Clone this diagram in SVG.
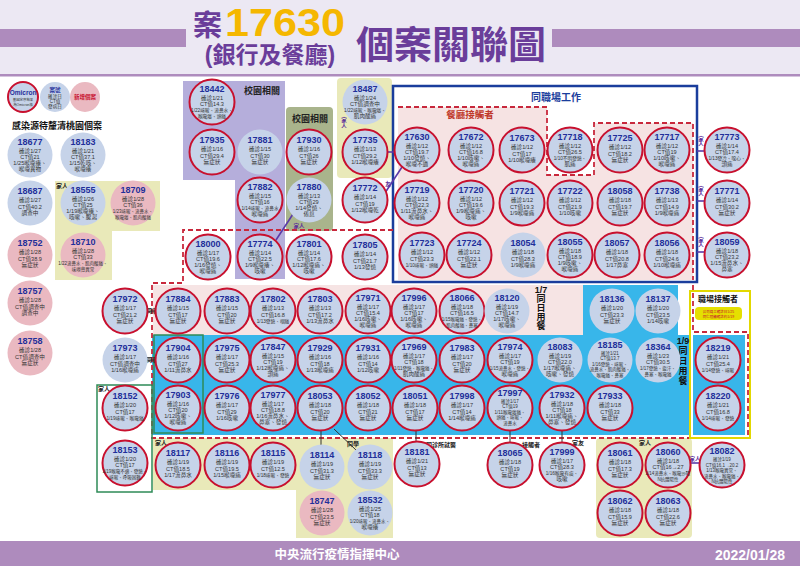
<svg xmlns="http://www.w3.org/2000/svg" width="800" height="566" viewBox="0 0 800 566">
<defs>
<style>
.r{fill:#c6d3e9;stroke:#c8102e;stroke-width:2}
.b{fill:#c6d3e9}
.p{fill:#eab9c1}
.id{font-family:"Liberation Sans",Arial,sans-serif;font-weight:bold;font-size:9px;fill:#1f2f9a;text-anchor:middle}
.t{font-family:"Liberation Sans","Noto Sans CJK TC","Noto Sans CJK SC",sans-serif;font-size:5.6px;fill:#333;text-anchor:middle}
.s{font-size:4.7px}
.x{font-size:4.5px}
.lb{font-family:"Liberation Sans","Noto Sans CJK TC",sans-serif;font-weight:bold;font-size:6px;fill:#222;text-anchor:middle}
.lp{font-family:"Liberation Sans","Noto Sans CJK TC",sans-serif;font-weight:bold;font-size:5.5px;fill:#5b2d9a;text-anchor:middle}
.dash{fill:none;stroke:#c8283c;stroke-width:1.8;stroke-dasharray:5 3}
.ln{stroke:#333;stroke-width:1;fill:none}
.pl{stroke:#5b3aa8;stroke-width:1.6;fill:none}
.vt{font-family:"Liberation Sans","Noto Sans CJK TC",sans-serif;font-weight:bold;font-size:9px;fill:#111;text-anchor:middle}
.hd{font-family:"Liberation Sans","Noto Sans CJK TC",sans-serif;font-weight:bold}
.red{fill:#c8102e}
</style>
</defs>
<rect width="800" height="566" fill="#ffffff"/>
<g id="header">
<rect x="0" y="0" width="800" height="75" fill="#ece8f3"/>
<rect x="0" y="29" width="186" height="18" fill="#ae8bbd"/>
<rect x="552" y="29" width="248" height="18" fill="#ae8bbd"/>
<rect x="0" y="74" width="800" height="2.5" fill="#ae8bbd"/>
<text class="hd" x="193" y="36" font-size="29" fill="#6a3d9a">案</text>
<text class="hd" x="225" y="36" font-size="38" fill="#f5b700" textLength="120" lengthAdjust="spacingAndGlyphs">17630</text>
<text class="hd" x="270" y="63" font-size="23" fill="#6a3d9a" text-anchor="middle">(銀行及餐廳)</text>
<text class="hd" x="451" y="58" font-size="38" fill="#6a3d9a" text-anchor="middle">個案關聯圖</text>
</g>
<g id="footer">
<rect x="0" y="541" width="800" height="25" fill="#ae8bbd"/>
<text class="hd" x="337" y="559" font-size="12.5" fill="#fff" text-anchor="middle">中央流行疫情指揮中心</text>
<text class="hd" x="785" y="560" font-size="14" fill="#fff" text-anchor="end">2022/01/28</text>
</g>
<g id="regions">
<path d="M55,181 H160 V231 H112 V280 H55 Z" fill="#e9e9b9"/>
<path d="M183,81 H285 V279 H235 V180 H183 Z" fill="#b5aedb"/>
<rect x="286" y="107" width="47" height="124" rx="4" fill="#a9b48c"/>
<rect x="337" y="78" width="55" height="100" rx="4" fill="#e9e9b9"/>
<path d="M398,107 H547 V175 H594 V123 H693 V280 H398 Z" fill="#f6e3e3"/>
<path d="M398,107 H547 V175 H594 V123 H693 V280" class="dash"/>
<rect x="393" y="86" width="304" height="196" fill="none" stroke="#1a3d9c" stroke-width="2.5"/>
<rect x="153" y="285" width="430" height="50" fill="#f6e4e4"/>
<path d="M152,335 H583 V285 H678 V335 H690 V435 H152 Z" fill="#38b6ea"/>
<rect x="693" y="335" width="52" height="100" fill="#38b6ea"/>
<path d="M153,438 H393 V538 H296 V490 H153 Z" fill="#e9e9b9"/>
<rect x="596" y="438" width="96" height="100" rx="4" fill="#e9e9b9"/>
<path d="M393,230 H183 V283 H152 V438 H748 V332 H693 V282" class="dash"/>
<rect x="690" y="291" width="60" height="147" fill="none" stroke="#e2d800" stroke-width="2"/>
<rect x="154" y="335" width="49" height="98" fill="none" stroke="#2e8b57" stroke-width="1.5"/>
<rect x="97" y="385" width="55" height="107" fill="none" stroke="#2e8b57" stroke-width="1.5"/>
</g>
<g id="labels">
<text class="hd" x="12" y="129" font-size="9" fill="#111">感染源待釐清桃園個案</text>
<text class="hd" x="262" y="94" font-size="9" fill="#222" text-anchor="middle">校園相關</text>
<text class="hd" x="310" y="122" font-size="9" fill="#222" text-anchor="middle">校園相關</text>
<text class="hd" x="556" y="101" font-size="10" fill="#1a3d9c" text-anchor="middle">同職場工作</text>
<text class="hd" x="470" y="118" font-size="9.5" fill="#c0392b" text-anchor="middle">餐廳接觸者</text>
<text class="hd" x="718" y="302" font-size="8" fill="#111" text-anchor="middle">職場接觸者</text>
<rect x="695" y="307" width="47" height="13" rx="4" fill="#e5e000"/>
<text class="t red" x="718.5" y="312.5" style="font-size:3.5px">公司員工確診日1/25</text>
<text class="t red" x="718.5" y="317.5" style="font-size:3.5px">同仁陸續確診約1/19</text>
<text class="vt"><tspan x="541" y="293">1/7</tspan><tspan x="541" dy="9">同</tspan><tspan x="541" dy="9">日</tspan><tspan x="541" dy="9">用</tspan><tspan x="541" dy="9">餐</tspan></text>
<text class="vt"><tspan x="683" y="344">1/9</tspan><tspan x="683" dy="10">同</tspan><tspan x="683" dy="10">日</tspan><tspan x="683" dy="10">用</tspan><tspan x="683" dy="10">餐</tspan></text>
<text class="lb" x="62" y="188" font-size="5.5">家人</text>
<text class="lb" x="104" y="391" font-size="5.5">家人</text>
<text class="lb" x="161" y="445" font-size="5.5">家人</text>
<text class="lb" x="645" y="445" font-size="5.5">家人</text>
<text class="lp"><tspan x="344" y="122">家</tspan><tspan x="344" dy="6">人</tspan></text>
</g>
<g id="connectors">
<line class="pl" x1="387" y1="152" x2="396" y2="152"/>
<line class="pl" x1="383" y1="196" x2="402" y2="167"/>
<text class="lp" x="388" y="186" font-size="7">友</text>
<line class="pl" x1="293" y1="214" x2="276" y2="240"/>
<text class="lp" x="299" y="228">家人</text>
<line class="pl" x1="697" y1="151" x2="705" y2="151"/>
<line class="pl" x1="697" y1="201" x2="705" y2="201"/>
<line class="pl" x1="697" y1="252" x2="705" y2="252"/>
<text class="lp" font-size="4.5"><tspan x="701" y="141">家</tspan><tspan x="701" dy="5">人</tspan></text>
<text class="lp" font-size="4.5"><tspan x="701" y="191">家</tspan><tspan x="701" dy="5">人</tspan></text>
<text class="lp" font-size="4.5"><tspan x="701" y="242">家</tspan><tspan x="701" dy="5">人</tspan></text>
<line class="pl" x1="690" y1="463" x2="700" y2="463"/>
<text class="lp" x="695" y="461" font-size="4">家人</text>
<line class="ln" x1="147" y1="311" x2="156" y2="311" stroke-width="2"/>
<text class="lb" x="152" y="313" font-size="4.5">同事</text>
<line class="ln" x1="147" y1="360" x2="156" y2="360" stroke-width="2"/>
<text class="lb" x="152" y="362" font-size="4.5">同事</text>
<line class="ln" x1="321" y1="430" x2="321" y2="445"/>
<line class="ln" x1="334" y1="429" x2="356" y2="450"/>
<text class="lb" x="353" y="446">同學</text>
<line class="ln" x1="416" y1="430" x2="416" y2="442"/>
<text class="lb" x="441" y="447">同診所就醫</text>
<line class="ln" x1="510" y1="430" x2="510" y2="443"/>
<text class="lb" x="531" y="447">接觸者</text>
<line class="ln" x1="562" y1="430" x2="562" y2="443"/>
<text class="lb" x="578" y="445">室友</text>
</g>
<g id="legend">
<circle class="r" cx="23" cy="97" r="15"/>
<text x="23" y="95" font-family="Liberation Sans,sans-serif" font-weight="bold" font-size="6.5" fill="#1f2f9a" text-anchor="middle">Omicron</text>
<text class="t" x="23" y="101" style="font-size:3.4px">基因定序結果</text>
<text class="t" x="23" y="105.5" style="font-size:3.4px">為Omicron株</text>
<circle class="b" cx="55" cy="97" r="15"/>
<text class="hd" x="55" y="92" font-size="5.5" fill="#1f2f9a" text-anchor="middle">案號</text>
<text class="t" x="55" y="98" style="font-size:4.6px"><tspan x="55">確診日</tspan><tspan x="55" dy="5">CT值</tspan><tspan x="55" dy="5">發病日</tspan></text>
<circle class="p" cx="85" cy="97" r="15"/>
<text class="hd" x="85" y="99" font-size="5.5" fill="#c8102e" text-anchor="middle">新增個案</text>
</g>
<g id="n18677"><circle class="b" cx="30" cy="155" r="22.5"/><text class="id" x="30" y="145">18677</text><text class="t" x="30" y="152.5"><tspan x="30">確診1/27</tspan><tspan x="30" dy="6.2">CT值21</tspan><tspan x="30" dy="6.2">1/25喉嚨癢、</tspan><tspan x="30" dy="6.2">喉嚨異物</tspan></text></g>
<g id="n18183"><circle class="b" cx="83" cy="155" r="22.5"/><text class="id" x="83" y="145">18183</text><text class="t" x="83" y="152.5"><tspan x="83">確診1/21</tspan><tspan x="83" dy="6.2">CT值37.1</tspan><tspan x="83" dy="6.2">1/15乾咳、</tspan><tspan x="83" dy="6.2">喉嚨癢</tspan></text></g>
<g id="n18687"><circle class="b" cx="30" cy="203" r="22.5"/><text class="id" x="30" y="194">18687</text><text class="t" x="30" y="202"><tspan x="30">確診1/27</tspan><tspan x="30" dy="6.5">CT值40.2</tspan><tspan x="30" dy="6.5">調查中</tspan></text></g>
<g id="n18555"><circle class="b" cx="83" cy="203" r="22.5"/><text class="id" x="83" y="193">18555</text><text class="t" x="83" y="200.5"><tspan x="83">確診1/26</tspan><tspan x="83" dy="6.2">CT值25</tspan><tspan x="83" dy="6.2">1/19喉嚨癢、</tspan><tspan x="83" dy="6.2">咳嗽、腹瀉</tspan></text></g>
<g id="n18709"><circle class="p" cx="133" cy="203" r="22.5"/><text class="id" x="133" y="193">18709</text><text class="t" x="133" y="200.5"><tspan x="133">確診1/28</tspan><tspan x="133" dy="6.2">CT值36</tspan><tspan class="x" x="133" dy="6.2">1/23咳嗽、流鼻水、</tspan><tspan class="x" x="133" dy="6">喉嚨癢、肌肉酸痛</tspan></text></g>
<g id="n18752"><circle class="p" cx="30" cy="255" r="22.5"/><text class="id" x="30" y="246">18752</text><text class="t" x="30" y="254"><tspan x="30">確診1/28</tspan><tspan x="30" dy="6.5">CT值38.9</tspan><tspan x="30" dy="6.5">無症狀</tspan></text></g>
<g id="n18710"><circle class="p" cx="83" cy="255" r="22.5"/><text class="id" x="83" y="245">18710</text><text class="t" x="83" y="252.5"><tspan x="83">確診1/28</tspan><tspan x="83" dy="6.2">CT值33</tspan><tspan class="x" x="83" dy="6.2">1/22流鼻水、肌肉酸痛、</tspan><tspan class="x" x="83" dy="6">味嗅覺異常</tspan></text></g>
<g id="n18757"><circle class="p" cx="30" cy="303" r="22.5"/><text class="id" x="30" y="294">18757</text><text class="t" x="30" y="302"><tspan x="30">確診1/28</tspan><tspan x="30" dy="6.5">CT值調查中</tspan><tspan x="30" dy="6.5">調查中</tspan></text></g>
<g id="n18758"><circle class="p" cx="30" cy="353" r="22.5"/><text class="id" x="30" y="344">18758</text><text class="t" x="30" y="352"><tspan x="30">確診1/28</tspan><tspan x="30" dy="6.5">CT值調查中</tspan><tspan x="30" dy="6.5">無症狀</tspan></text></g>
<g id="n18442"><circle class="r" cx="212" cy="102" r="22.5"/><text class="id" x="212" y="92">18442</text><text class="t" x="212" y="99.5"><tspan x="212">確診1/21</tspan><tspan x="212" dy="6.2">CT值14.3</tspan><tspan class="s" x="212" dy="6.2">1/22咳嗽、流鼻水、</tspan><tspan class="s" x="212" dy="6">喉嚨癢、頭痛</tspan></text></g>
<g id="n17935"><circle class="r" cx="212" cy="152" r="22.5"/><text class="id" x="212" y="143">17935</text><text class="t" x="212" y="151"><tspan x="212">確診1/16</tspan><tspan x="212" dy="6.5">CT值29.4</tspan><tspan x="212" dy="6.5">無症狀</tspan></text></g>
<g id="n17881"><circle class="b" cx="260" cy="152" r="22.5"/><text class="id" x="260" y="143">17881</text><text class="t" x="260" y="151"><tspan x="260">確診1/15</tspan><tspan x="260" dy="6.5">CT值30</tspan><tspan x="260" dy="6.5">無症狀</tspan></text></g>
<g id="n17882"><circle class="r" cx="260" cy="200" r="22.5"/><text class="id" x="260" y="190">17882</text><text class="t" x="260" y="197.5"><tspan x="260">確診1/15</tspan><tspan x="260" dy="6.2">CT值16</tspan><tspan class="s" x="260" dy="6.2">1/14咳嗽、流鼻水</tspan><tspan x="260" dy="6.2">喉嚨痛</tspan></text></g>
<g id="n17774"><circle class="r" cx="260" cy="257" r="22.5"/><text class="id" x="260" y="247">17774</text><text class="t" x="260" y="254.5"><tspan x="260">確診1/14</tspan><tspan x="260" dy="6.2">CT值22.5</tspan><tspan x="260" dy="6.2">1/9喉嚨癢、</tspan><tspan x="260" dy="6.2">咳嗽</tspan></text></g>
<g id="n17930"><circle class="r" cx="309" cy="152" r="22.5"/><text class="id" x="309" y="143">17930</text><text class="t" x="309" y="151"><tspan x="309">確診1/16</tspan><tspan x="309" dy="6.5">CT值26</tspan><tspan x="309" dy="6.5">無症狀</tspan></text></g>
<g id="n17880"><circle class="b" cx="309" cy="200" r="22.5"/><text class="id" x="309" y="190">17880</text><text class="t" x="309" y="197.5"><tspan x="309">確診1/13</tspan><tspan x="309" dy="6.2">CT值29</tspan><tspan x="309" dy="6.2">1/14發燒、</tspan><tspan x="309" dy="6.2">倦怠</tspan></text></g>
<g id="n18487"><circle class="b" cx="365" cy="102" r="22.5"/><text class="id" x="365" y="92">18487</text><text class="t" x="365" y="99.5"><tspan x="365">確診1/24</tspan><tspan x="365" dy="6.2">CT值調查中</tspan><tspan class="s" x="365" dy="6.2">1/22咳嗽、喉嚨癢、</tspan><tspan x="365" dy="6">肌肉酸痛</tspan></text></g>
<g id="n17735"><circle class="r" cx="365" cy="152" r="22.5"/><text class="id" x="365" y="143">17735</text><text class="t" x="365" y="151"><tspan x="365">確診1/13</tspan><tspan x="365" dy="6.5">CT值29.2</tspan><tspan x="365" dy="6.5">1/12喉嚨癢</tspan></text></g>
<g id="n17772"><circle class="r" cx="365" cy="200" r="22.5"/><text class="id" x="365" y="191">17772</text><text class="t" x="365" y="199"><tspan x="365">確診1/14</tspan><tspan x="365" dy="6.5">CT值19</tspan><tspan x="365" dy="6.5">1/12喉嚨乾</tspan></text></g>
<g id="n18000"><circle class="r" cx="208" cy="257" r="22.5"/><text class="id" x="208" y="247">18000</text><text class="t" x="208" y="254.5"><tspan x="208">確診1/17</tspan><tspan x="208" dy="6.2">CT值19.6</tspan><tspan x="208" dy="6.2">1/16發燒、</tspan><tspan x="208" dy="6.2">喉嚨痛</tspan></text></g>
<g id="n17801"><circle class="r" cx="309" cy="257" r="22.5"/><text class="id" x="309" y="247">17801</text><text class="t" x="309" y="254.5"><tspan x="309">確診1/14</tspan><tspan x="309" dy="6.2">CT值17.6</tspan><tspan x="309" dy="6.2">1/12喉嚨痛、</tspan><tspan x="309" dy="6.2">咳嗽</tspan></text></g>
<g id="n17805"><circle class="r" cx="365" cy="257" r="22.5"/><text class="id" x="365" y="248">17805</text><text class="t" x="365" y="256"><tspan x="365">確診1/14</tspan><tspan x="365" dy="6.5">CT值21.7</tspan><tspan x="365" dy="6.5">1/13發燒</tspan></text></g>
<g id="n17630"><circle class="r" cx="417" cy="150" r="22.5"/><text class="id" x="417" y="140">17630</text><text class="t" x="417" y="147.5"><tspan x="417">確診1/12</tspan><tspan x="417" dy="6.2">CT值19.7</tspan><tspan x="417" dy="6.2">1/10發燒、</tspan><tspan x="417" dy="6.2">喉嚨不適</tspan></text></g>
<g id="n17672"><circle class="r" cx="471" cy="150" r="22.5"/><text class="id" x="471" y="140">17672</text><text class="t" x="471" y="147.5"><tspan x="471">確診1/12</tspan><tspan x="471" dy="6.2">CT值16.8</tspan><tspan x="471" dy="6.2">1/10咳嗽、</tspan><tspan x="471" dy="6.2">喉嚨痛</tspan></text></g>
<g id="n17673"><circle class="r" cx="522" cy="150" r="22.5"/><text class="id" x="522" y="141">17673</text><text class="t" x="522" y="149"><tspan x="522">確診1/12</tspan><tspan x="522" dy="6.5">CT值17</tspan><tspan x="522" dy="6.5">1/10喉嚨癢</tspan></text></g>
<g id="n17718"><circle class="r" cx="570" cy="150" r="22.5"/><text class="id" x="570" y="140">17718</text><text class="t" x="570" y="147.5"><tspan x="570">確診1/12</tspan><tspan x="570" dy="6.2">CT值26.5</tspan><tspan class="s" x="570" dy="6.2">1/10不明發燒、</tspan><tspan x="570" dy="6.2">肌痛</tspan></text></g>
<g id="n17725"><circle class="r" cx="620" cy="150" r="22.5"/><text class="id" x="620" y="141">17725</text><text class="t" x="620" y="149"><tspan x="620">確診1/12</tspan><tspan x="620" dy="6.5">CT值18.2</tspan><tspan x="620" dy="6.5">無症狀</tspan></text></g>
<g id="n17717"><circle class="r" cx="667" cy="150" r="22.5"/><text class="id" x="667" y="140">17717</text><text class="t" x="667" y="147.5"><tspan x="667">確診1/12</tspan><tspan x="667" dy="6.2">CT值19</tspan><tspan x="667" dy="6.2">1/10咳嗽、</tspan><tspan x="667" dy="6.2">喉嚨痛</tspan></text></g>
<g id="n17773"><circle class="r" cx="727" cy="150" r="22.5"/><text class="id" x="727" y="140">17773</text><text class="t" x="727" y="147.5"><tspan x="727">確診1/14</tspan><tspan x="727" dy="6.2">CT值17.4</tspan><tspan class="s" x="727" dy="6.2">1/13發冷、噁心、</tspan><tspan x="727" dy="6.2">頭痛</tspan></text></g>
<g id="n17719"><circle class="r" cx="417" cy="203" r="22.5"/><text class="id" x="417" y="193">17719</text><text class="t" x="417" y="200.5"><tspan x="417">確診1/12</tspan><tspan x="417" dy="6.2">CT值22.3</tspan><tspan x="417" dy="6.2">1/11流鼻水、</tspan><tspan x="417" dy="6.2">喉嚨痛</tspan></text></g>
<g id="n17720"><circle class="r" cx="471" cy="203" r="22.5"/><text class="id" x="471" y="193">17720</text><text class="t" x="471" y="200.5"><tspan x="471">確診1/12</tspan><tspan x="471" dy="6.2">CT值19.6</tspan><tspan x="471" dy="6.2">1/9喉嚨痛、</tspan><tspan x="471" dy="6.2">咳嗽</tspan></text></g>
<g id="n17721"><circle class="r" cx="522" cy="203" r="22.5"/><text class="id" x="522" y="194">17721</text><text class="t" x="522" y="202"><tspan x="522">確診1/12</tspan><tspan x="522" dy="6.5">CT值19.3</tspan><tspan x="522" dy="6.5">1/9喉嚨痛</tspan></text></g>
<g id="n17722"><circle class="r" cx="570" cy="203" r="22.5"/><text class="id" x="570" y="194">17722</text><text class="t" x="570" y="202"><tspan x="570">確診1/12</tspan><tspan x="570" dy="6.5">CT值21.9</tspan><tspan x="570" dy="6.5">1/10咳嗽</tspan></text></g>
<g id="n18058"><circle class="r" cx="620" cy="203" r="22.5"/><text class="id" x="620" y="194">18058</text><text class="t" x="620" y="202"><tspan x="620">確診1/18</tspan><tspan x="620" dy="6.5">CT值19.7</tspan><tspan x="620" dy="6.5">無症狀</tspan></text></g>
<g id="n17738"><circle class="r" cx="667" cy="203" r="22.5"/><text class="id" x="667" y="194">17738</text><text class="t" x="667" y="202"><tspan x="667">確診1/13</tspan><tspan x="667" dy="6.5">CT值14.9</tspan><tspan x="667" dy="6.5">1/9喉嚨痛</tspan></text></g>
<g id="n17771"><circle class="r" cx="727" cy="203" r="22.5"/><text class="id" x="727" y="194">17771</text><text class="t" x="727" y="202"><tspan x="727">確診1/14</tspan><tspan x="727" dy="6.5">CT值30.2</tspan><tspan x="727" dy="6.5">無症狀</tspan></text></g>
<g id="n17723"><circle class="r" cx="422" cy="255" r="22.5"/><text class="id" x="422" y="246">17723</text><text class="t" x="422" y="254"><tspan x="422">確診1/12</tspan><tspan x="422" dy="6.5">CT值23.3</tspan><tspan class="s" x="422" dy="6.5">1/10咳嗽、頭痛</tspan></text></g>
<g id="n17724"><circle class="r" cx="469" cy="255" r="22.5"/><text class="id" x="469" y="246">17724</text><text class="t" x="469" y="254"><tspan x="469">確診1/12</tspan><tspan x="469" dy="6.5">CT值22.1</tspan><tspan x="469" dy="6.5">無症狀</tspan></text></g>
<g id="n18054"><circle class="b" cx="523" cy="255" r="22.5"/><text class="id" x="523" y="246">18054</text><text class="t" x="523" y="254"><tspan x="523">確診1/18</tspan><tspan x="523" dy="6.5">CT值28.3</tspan><tspan x="523" dy="6.5">1/9喉嚨痛</tspan></text></g>
<g id="n18055"><circle class="r" cx="570" cy="255" r="22.5"/><text class="id" x="570" y="245">18055</text><text class="t" x="570" y="252.5"><tspan x="570">確診1/18</tspan><tspan x="570" dy="6.2">CT值18.9</tspan><tspan x="570" dy="6.2">1/9咳嗽、</tspan><tspan x="570" dy="6.2">喉嚨痛</tspan></text></g>
<g id="n18057"><circle class="r" cx="617" cy="255" r="22.5"/><text class="id" x="617" y="246">18057</text><text class="t" x="617" y="254"><tspan x="617">確診1/18</tspan><tspan x="617" dy="6.5">CT值20.8</tspan><tspan x="617" dy="6.5">1/17鼻塞</tspan></text></g>
<g id="n18056"><circle class="r" cx="667" cy="255" r="22.5"/><text class="id" x="667" y="246">18056</text><text class="t" x="667" y="254"><tspan x="667">確診1/18</tspan><tspan x="667" dy="6.5">CT值24.6</tspan><tspan x="667" dy="6.5">1/10喉嚨痛</tspan></text></g>
<g id="n18059"><circle class="r" cx="727" cy="255" r="22.5"/><text class="id" x="727" y="245">18059</text><text class="t" x="727" y="252.5"><tspan x="727">確診1/18</tspan><tspan x="727" dy="6.2">CT值23.2</tspan><tspan x="727" dy="6.2">1/15流鼻水、</tspan><tspan x="727" dy="6.2">鼻塞</tspan></text></g>
<g id="n17972"><circle class="r" cx="125" cy="311" r="22.5"/><text class="id" x="125" y="302">17972</text><text class="t" x="125" y="310"><tspan x="125">確診1/17</tspan><tspan x="125" dy="6.5">CT值21.2</tspan><tspan x="125" dy="6.5">無症狀</tspan></text></g>
<g id="n17884"><circle class="r" cx="178" cy="311" r="22.5"/><text class="id" x="178" y="302">17884</text><text class="t" x="178" y="310"><tspan x="178">確診1/15</tspan><tspan x="178" dy="6.5">CT值17</tspan><tspan x="178" dy="6.5">無症狀</tspan></text></g>
<g id="n17883"><circle class="r" cx="227" cy="311" r="22.5"/><text class="id" x="227" y="302">17883</text><text class="t" x="227" y="310"><tspan x="227">確診1/15</tspan><tspan x="227" dy="6.5">CT值20</tspan><tspan x="227" dy="6.5">無症狀</tspan></text></g>
<g id="n17802"><circle class="r" cx="273" cy="311" r="22.5"/><text class="id" x="273" y="302">17802</text><text class="t" x="273" y="310"><tspan x="273">確診1/13</tspan><tspan x="273" dy="6.5">CT值16.8</tspan><tspan class="s" x="273" dy="6.5">1/13發燒、咽痛</tspan></text></g>
<g id="n17803"><circle class="r" cx="320" cy="311" r="22.5"/><text class="id" x="320" y="302">17803</text><text class="t" x="320" y="310"><tspan x="320">確診1/13</tspan><tspan x="320" dy="6.5">CT值17.2</tspan><tspan x="320" dy="6.5">1/13流鼻水</tspan></text></g>
<g id="n17971"><circle class="r" cx="368" cy="311" r="22.5"/><text class="id" x="368" y="301">17971</text><text class="t" x="368" y="308.5"><tspan x="368">確診1/17</tspan><tspan x="368" dy="6.2">CT值15.4</tspan><tspan x="368" dy="6.2">1/16咳嗽、</tspan><tspan x="368" dy="6.2">喉嚨痛</tspan></text></g>
<g id="n17996"><circle class="r" cx="414" cy="311" r="22.5"/><text class="id" x="414" y="301">17996</text><text class="t" x="414" y="308.5"><tspan x="414">確診1/17</tspan><tspan x="414" dy="6.2">CT值17</tspan><tspan x="414" dy="6.2">1/16咳嗽、</tspan><tspan x="414" dy="6.2">喉嚨痛</tspan></text></g>
<g id="n18066"><circle class="r" cx="462" cy="311" r="22.5"/><text class="id" x="462" y="301">18066</text><text class="t" x="462" y="308.5"><tspan x="462">確診1/18</tspan><tspan x="462" dy="6.2">CT值16.5</tspan><tspan class="x" x="462" dy="6.2">1/15喉嚨痛、發燒、</tspan><tspan class="x" x="462" dy="5.8">肌肉酸痛、鼻塞</tspan></text></g>
<g id="n18120"><circle class="b" cx="507" cy="311" r="22.5"/><text class="id" x="507" y="301">18120</text><text class="t" x="507" y="308.5"><tspan x="507">確診1/19</tspan><tspan x="507" dy="6.2">CT值14.7</tspan><tspan x="507" dy="6.2">1/17咳嗽、</tspan><tspan x="507" dy="6.2">喉嚨痛</tspan></text></g>
<g id="n18136"><circle class="b" cx="612" cy="311" r="22.5"/><text class="id" x="612" y="302">18136</text><text class="t" x="612" y="310"><tspan x="612">確診1/20</tspan><tspan x="612" dy="6.5">CT值23.3</tspan><tspan x="612" dy="6.5">無症狀</tspan></text></g>
<g id="n18137"><circle class="b" cx="658" cy="311" r="22.5"/><text class="id" x="658" y="302">18137</text><text class="t" x="658" y="310"><tspan x="658">確診1/20</tspan><tspan x="658" dy="6.5">CT值23.5</tspan><tspan x="658" dy="6.5">1/14咳嗽</tspan></text></g>
<g id="n17973"><circle class="b" cx="125" cy="360" r="22.5"/><text class="id" x="125" y="351">17973</text><text class="t" x="125" y="359"><tspan x="125">確診1/17</tspan><tspan x="125" dy="6.5">CT值調查中</tspan><tspan x="125" dy="6.5">1/16喉嚨痛</tspan></text></g>
<g id="n17904"><circle class="r" cx="178" cy="360" r="22.5"/><text class="id" x="178" y="351">17904</text><text class="t" x="178" y="359"><tspan x="178">確診1/16</tspan><tspan x="178" dy="6.5">CT值27</tspan><tspan x="178" dy="6.5">1/11流鼻水</tspan></text></g>
<g id="n17975"><circle class="r" cx="227" cy="360" r="22.5"/><text class="id" x="227" y="351">17975</text><text class="t" x="227" y="359"><tspan x="227">確診1/17</tspan><tspan x="227" dy="6.5">CT值25.3</tspan><tspan x="227" dy="6.5">無症狀</tspan></text></g>
<g id="n17847"><circle class="r" cx="273" cy="360" r="22.5"/><text class="id" x="273" y="350">17847</text><text class="t" x="273" y="357.5"><tspan x="273">確診1/15</tspan><tspan x="273" dy="6.2">CT值19</tspan><tspan x="273" dy="6.2">1/12喉嚨痛、</tspan><tspan x="273" dy="6.2">頭痛</tspan></text></g>
<g id="n17929"><circle class="r" cx="320" cy="360" r="22.5"/><text class="id" x="320" y="351">17929</text><text class="t" x="320" y="359"><tspan x="320">確診1/16</tspan><tspan x="320" dy="6.5">CT值18</tspan><tspan x="320" dy="6.5">1/13喉嚨痛</tspan></text></g>
<g id="n17931"><circle class="r" cx="368" cy="360" r="22.5"/><text class="id" x="368" y="351">17931</text><text class="t" x="368" y="359"><tspan x="368">確診1/16</tspan><tspan x="368" dy="6.5">CT值14</tspan><tspan x="368" dy="6.5">1/12咳嗽</tspan></text></g>
<g id="n17969"><circle class="r" cx="414" cy="360" r="22.5"/><text class="id" x="414" y="350">17969</text><text class="t" x="414" y="357.5"><tspan x="414">確診1/17</tspan><tspan x="414" dy="6.2">CT值18</tspan><tspan class="x" x="414" dy="6.2">1/11發燒、喉嚨痛、</tspan><tspan x="414" dy="6">肌肉酸痛</tspan></text></g>
<g id="n17983"><circle class="r" cx="462" cy="360" r="22.5"/><text class="id" x="462" y="351">17983</text><text class="t" x="462" y="359"><tspan x="462">確診1/17</tspan><tspan x="462" dy="6.5">CT值20</tspan><tspan x="462" dy="6.5">無症狀</tspan></text></g>
<g id="n17974"><circle class="r" cx="510" cy="360" r="22.5"/><text class="id" x="510" y="350">17974</text><text class="t" x="510" y="357.5"><tspan x="510">確診1/17</tspan><tspan x="510" dy="6.2">CT值19</tspan><tspan class="x" x="510" dy="6.2">1/15流鼻水、發燒、</tspan><tspan x="510" dy="6">喉嚨痛</tspan></text></g>
<g id="n18083"><circle class="b" cx="560" cy="360" r="22.5"/><text class="id" x="560" y="350">18083</text><text class="t" x="560" y="357.5"><tspan x="560">確診1/19</tspan><tspan x="560" dy="6.2">CT值22.0</tspan><tspan x="560" dy="6.2">1/17喉嚨痛、</tspan><tspan x="560" dy="6.2">咳嗽、發燒</tspan></text></g>
<g id="n18185"><circle class="b" cx="610" cy="360" r="22.5"/><text class="id" x="610" y="348">18185</text><text class="t x" x="610" y="355"><tspan x="610">確診1/21</tspan><tspan x="610" dy="5.4">CT值13.7</tspan><tspan x="610" dy="5.4">1/16發燒、咳嗽、</tspan><tspan x="610" dy="5.4">流鼻水、肌肉酸痛、</tspan><tspan x="610" dy="5.4">喉嚨痛、鼻塞</tspan></text></g>
<g id="n18364"><circle class="b" cx="658" cy="360" r="22.5"/><text class="id" x="658" y="350">18364</text><text class="t" x="658" y="357.5"><tspan x="658">確診1/23</tspan><tspan x="658" dy="6.2">CT值30.5</tspan><tspan class="x" x="658" dy="6.2">1/17發燒、盜汗、</tspan><tspan class="x" x="658" dy="5.8">鼻塞、喉嚨痛</tspan></text></g>
<g id="n18219"><circle class="r" cx="718" cy="360" r="22.5"/><text class="id" x="718" y="351">18219</text><text class="t" x="718" y="359"><tspan x="718">確診1/21</tspan><tspan x="718" dy="6.5">CT值25.4</tspan><tspan class="s" x="718" dy="6.5">1/14發燒、咳嗽</tspan></text></g>
<g id="n18152"><circle class="r" cx="125" cy="408" r="22.5"/><text class="id" x="125" y="399">18152</text><text class="t" x="125" y="407"><tspan x="125">確診1/20</tspan><tspan x="125" dy="6.5">CT值17</tspan><tspan class="s" x="125" dy="6.5">1/19咳嗽、喉嚨痛</tspan></text></g>
<g id="n17903"><circle class="r" cx="178" cy="408" r="22.5"/><text class="id" x="178" y="398">17903</text><text class="t" x="178" y="405.5"><tspan x="178">確診1/16</tspan><tspan x="178" dy="6.2">CT值20</tspan><tspan x="178" dy="6.2">1/12咳嗽、</tspan><tspan x="178" dy="6.2">喉嚨痛</tspan></text></g>
<g id="n17976"><circle class="r" cx="227" cy="408" r="22.5"/><text class="id" x="227" y="399">17976</text><text class="t" x="227" y="407"><tspan x="227">確診1/17</tspan><tspan x="227" dy="6.5">CT值29</tspan><tspan x="227" dy="6.5">1/16咳嗽</tspan></text></g>
<g id="n17977"><circle class="r" cx="273" cy="408" r="22.5"/><text class="id" x="273" y="398">17977</text><text class="t" x="273" y="405.5"><tspan x="273">確診1/17</tspan><tspan x="273" dy="6.2">CT值18.8</tspan><tspan x="273" dy="6.2">1/16流鼻水、</tspan><tspan x="273" dy="6.2">鼻塞、發燒</tspan></text></g>
<g id="n18053"><circle class="r" cx="320" cy="408" r="22.5"/><text class="id" x="320" y="399">18053</text><text class="t" x="320" y="407"><tspan x="320">確診1/18</tspan><tspan x="320" dy="6.5">CT值20</tspan><tspan x="320" dy="6.5">無症狀</tspan></text></g>
<g id="n18052"><circle class="r" cx="368" cy="408" r="22.5"/><text class="id" x="368" y="399">18052</text><text class="t" x="368" y="407"><tspan x="368">確診1/18</tspan><tspan x="368" dy="6.5">CT值21</tspan><tspan x="368" dy="6.5">無症狀</tspan></text></g>
<g id="n18051"><circle class="r" cx="415" cy="408" r="22.5"/><text class="id" x="415" y="399">18051</text><text class="t" x="415" y="407"><tspan x="415">確診1/18</tspan><tspan x="415" dy="6.5">CT值17</tspan><tspan x="415" dy="6.5">無症狀</tspan></text></g>
<g id="n17998"><circle class="r" cx="462" cy="408" r="22.5"/><text class="id" x="462" y="399">17998</text><text class="t" x="462" y="407"><tspan x="462">確診1/17</tspan><tspan x="462" dy="6.5">CT值14</tspan><tspan x="462" dy="6.5">1/14喉嚨痛</tspan></text></g>
<g id="n17997"><circle class="r" cx="510" cy="408" r="22.5"/><text class="id" x="510" y="396">17997</text><text class="t x" x="510" y="403"><tspan x="510">確診1/17</tspan><tspan x="510" dy="5.4">CT值19</tspan><tspan x="510" dy="5.4">1/11喉嚨癢痛、</tspan><tspan x="510" dy="5.4">頭痛、咳嗽、</tspan><tspan x="510" dy="5.4">流鼻水</tspan></text></g>
<g id="n17932"><circle class="r" cx="562" cy="408" r="22.5"/><text class="id" x="562" y="398">17932</text><text class="t" x="562" y="405.5"><tspan x="562">確診1/18</tspan><tspan x="562" dy="6.2">CT值18</tspan><tspan x="562" dy="6.2">1/11喉嚨痛、</tspan><tspan x="562" dy="6.2">鼻塞、發燒</tspan></text></g>
<g id="n17933"><circle class="r" cx="610" cy="408" r="22.5"/><text class="id" x="610" y="399">17933</text><text class="t" x="610" y="407"><tspan x="610">確診1/18</tspan><tspan x="610" dy="6.5">CT值33</tspan><tspan x="610" dy="6.5">無症狀</tspan></text></g>
<g id="n18220"><circle class="r" cx="718" cy="408" r="22.5"/><text class="id" x="718" y="399">18220</text><text class="t" x="718" y="407"><tspan x="718">確診1/21</tspan><tspan x="718" dy="6.5">CT值16.8</tspan><tspan class="s" x="718" dy="6.5">1/14咳嗽、發燒</tspan></text></g>
<g id="n18153"><circle class="r" cx="125" cy="463" r="22.5"/><text class="id" x="125" y="453">18153</text><text class="t" x="125" y="460.5"><tspan x="125">確診1/20</tspan><tspan x="125" dy="6.2">CT值17</tspan><tspan class="x" x="125" dy="6.2">1/19喉嚨不適、發燒、</tspan><tspan class="x" x="125" dy="5.8">咳嗽、呼吸困難</tspan></text></g>
<g id="n18117"><circle class="r" cx="178" cy="465" r="22.5"/><text class="id" x="178" y="456">18117</text><text class="t" x="178" y="464"><tspan x="178">確診1/19</tspan><tspan x="178" dy="6.5">CT值18.5</tspan><tspan x="178" dy="6.5">1/17流鼻水</tspan></text></g>
<g id="n18116"><circle class="r" cx="227" cy="465" r="22.5"/><text class="id" x="227" y="456">18116</text><text class="t" x="227" y="464"><tspan x="227">確診1/19</tspan><tspan x="227" dy="6.5">CT值19.5</tspan><tspan x="227" dy="6.5">1/15喉嚨痛</tspan></text></g>
<g id="n18115"><circle class="r" cx="273" cy="465" r="22.5"/><text class="id" x="273" y="456">18115</text><text class="t" x="273" y="464"><tspan x="273">確診1/19</tspan><tspan x="273" dy="6.5">CT值12.5</tspan><tspan class="s" x="273" dy="6.5">1/18咳嗽、發燒</tspan></text></g>
<g id="n18114"><circle class="b" cx="322" cy="467" r="22.5"/><text class="id" x="322" y="458">18114</text><text class="t" x="322" y="466"><tspan x="322">確診1/19</tspan><tspan x="322" dy="6.5">CT值31.3</tspan><tspan x="322" dy="6.5">無症狀</tspan></text></g>
<g id="n18118"><circle class="b" cx="370" cy="467" r="22.5"/><text class="id" x="370" y="458">18118</text><text class="t" x="370" y="466"><tspan x="370">確診1/19</tspan><tspan x="370" dy="6.5">CT值33.3</tspan><tspan x="370" dy="6.5">無症狀</tspan></text></g>
<g id="n18181"><circle class="r" cx="417" cy="464" r="22.5"/><text class="id" x="417" y="455">18181</text><text class="t" x="417" y="463"><tspan x="417">確診1/21</tspan><tspan x="417" dy="6.5">CT值13</tspan><tspan x="417" dy="6.5">無症狀</tspan></text></g>
<g id="n18065"><circle class="r" cx="510" cy="465" r="22.5"/><text class="id" x="510" y="456">18065</text><text class="t" x="510" y="464"><tspan x="510">確診1/18</tspan><tspan x="510" dy="6.5">CT值19</tspan><tspan x="510" dy="6.5">無症狀</tspan></text></g>
<g id="n17999"><circle class="r" cx="562" cy="465" r="22.5"/><text class="id" x="562" y="455">17999</text><text class="t" x="562" y="462.5"><tspan x="562">確診1/17</tspan><tspan x="562" dy="6.2">CT值28.3</tspan><tspan class="s" x="562" dy="6.2">1/16喉嚨有痰、</tspan><tspan x="562" dy="6.2">咳嗽</tspan></text></g>
<g id="n18061"><circle class="r" cx="620" cy="465" r="22.5"/><text class="id" x="620" y="456">18061</text><text class="t" x="620" y="464"><tspan x="620">確診1/18</tspan><tspan x="620" dy="6.5">CT值17.3</tspan><tspan x="620" dy="6.5">無症狀</tspan></text></g>
<g id="n18060"><circle class="r" cx="668" cy="465" r="22.5"/><text class="id" x="668" y="455">18060</text><text class="t" x="668" y="462.5"><tspan x="668">確診1/18</tspan><tspan x="668" dy="6.2">CT值16→27</tspan><tspan class="x" x="668" dy="6.2">1/14流鼻水、喉嚨沙啞</tspan><tspan class="x" x="668" dy="5.8">N抗體陽性</tspan></text></g>
<g id="n18082"><circle class="r" cx="722" cy="465" r="22.5"/><text class="id" x="722" y="454">18082</text><text class="t x" x="722" y="461"><tspan x="722">確診1/19</tspan><tspan x="722" dy="5.5">CT值16.1→20.2</tspan><tspan x="722" dy="5.5">1/13喉嚨異常、</tspan><tspan x="722" dy="5.5">流鼻水、喉嚨痛、</tspan><tspan x="722" dy="5.5">N抗體陽性</tspan></text></g>
<g id="n18747"><circle class="p" cx="322" cy="513" r="22.5"/><text class="id" x="322" y="504">18747</text><text class="t" x="322" y="512"><tspan x="322">確診1/28</tspan><tspan x="322" dy="6.5">CT值23.5</tspan><tspan x="322" dy="6.5">無症狀</tspan></text></g>
<g id="n18532"><circle class="b" cx="370" cy="513" r="22.5"/><text class="id" x="370" y="503">18532</text><text class="t" x="370" y="510.5"><tspan x="370">確診1/25</tspan><tspan x="370" dy="6.2">CT值18</tspan><tspan class="x" x="370" dy="6.2">1/20咳嗽、流鼻水、</tspan><tspan x="370" dy="6">喉嚨癢</tspan></text></g>
<g id="n18062"><circle class="r" cx="620" cy="513" r="22.5"/><text class="id" x="620" y="504">18062</text><text class="t" x="620" y="512"><tspan x="620">確診1/18</tspan><tspan x="620" dy="6.5">CT值15.9</tspan><tspan x="620" dy="6.5">無症狀</tspan></text></g>
<g id="n18063"><circle class="r" cx="668" cy="513" r="22.5"/><text class="id" x="668" y="504">18063</text><text class="t" x="668" y="512"><tspan x="668">確診1/18</tspan><tspan x="668" dy="6.5">CT值22.6</tspan><tspan x="668" dy="6.5">無症狀</tspan></text></g>
</svg>
